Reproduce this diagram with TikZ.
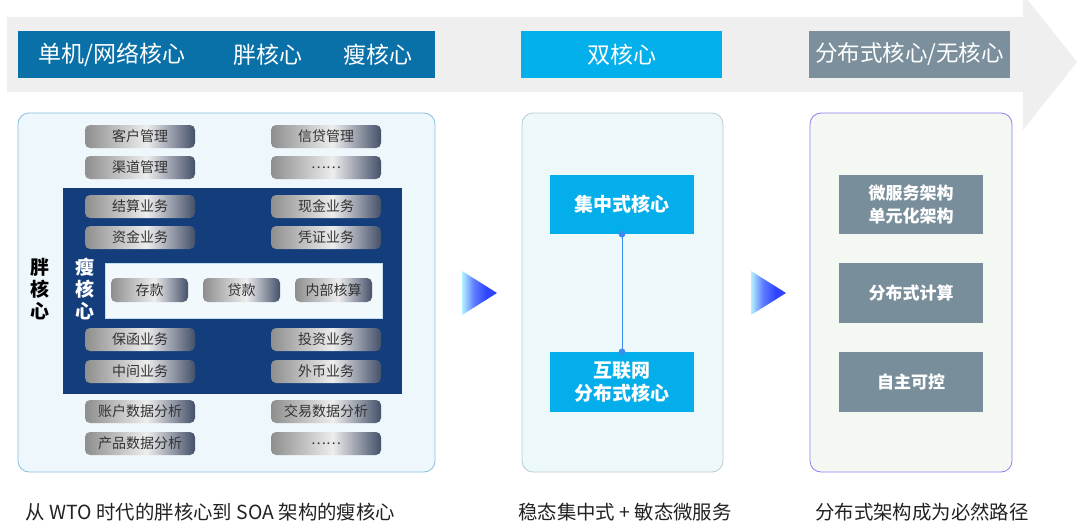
\documentclass[tikz,border=0pt]{standalone}
\usepackage{fontspec}
\setmainfont{Noto Sans CJK SC}
\definecolor{bandgray}{HTML}{EFEFEF}
\definecolor{hdrdark}{HTML}{0A70A8}
\definecolor{hdrcyan}{HTML}{04B0EC}
\definecolor{hdrgray}{HTML}{7B909C}
\definecolor{p1fill}{HTML}{EEF7FC}
\definecolor{p1line}{HTML}{86BFE2}
\definecolor{navy}{HTML}{133D7B}
\definecolor{innerfill}{HTML}{F2F9FD}
\definecolor{p2fill}{HTML}{EDF8FB}
\definecolor{p2line}{HTML}{B9CBD6}
\definecolor{p3fill}{HTML}{F4F8F2}
\definecolor{p3line}{HTML}{8E7DF2}
\definecolor{cyanbox}{HTML}{03AEEB}
\definecolor{graybox}{HTML}{798E9B}
\definecolor{linkblue}{HTML}{3D8BF0}
\definecolor{gL}{HTML}{8E8E8E}
\definecolor{gM}{HTML}{EDEDED}
\definecolor{gR}{HTML}{45516A}
\definecolor{arrL}{HTML}{B5F2FF}
\definecolor{arrM}{HTML}{5E7CFF}
\definecolor{arrR}{HTML}{2F44FF}
\definecolor{captext}{HTML}{222222}
\pgfdeclarehorizontalshading{btnshade}{100bp}{color(0bp)=(gL); color(25bp)=(gL); color(53bp)=(gM); color(75bp)=(gR); color(100bp)=(gR)}
\pgfdeclarehorizontalshading{trishade}{100bp}{color(0bp)=(arrL); color(25bp)=(arrL); color(42bp)=(arrM); color(60bp)=(arrR); color(100bp)=(arrR)}
\tikzset{
  hdrbox/.style={inner sep=0pt, minimum height=47pt},
  hdrtext/.style={text=white, font=\fontsize{23pt}{25pt}\selectfont, inner sep=0pt},
  btn/.style={rounded corners=5pt, shade, shading=btnshade, minimum width=110pt, minimum height=23pt, inner sep=0pt, text=black!80, font=\fontsize{14pt}{16pt}\selectfont},
  smallbtn/.style={btn, minimum width=77pt, minimum height=24pt},
  panel/.style={rounded corners=11pt, line width=0.8pt, inner sep=0pt},
  corebox/.style={inner sep=0pt, minimum width=144pt, minimum height=59pt, text=white, align=center, font=\bfseries\fontsize{19pt}{23pt}\selectfont},
  graycore/.style={corebox, fill=graybox, font=\bfseries\fontsize{17pt}{23pt}\selectfont},
  sidelabel/.style={align=center, inner sep=0pt, font=\bfseries\fontsize{19pt}{22pt}\selectfont},
  caption/.style={text=captext, inner sep=0pt, font=\fontsize{19.4pt}{21pt}\selectfont},
  tri/.style={shade, shading=trishade}
}
\begin{document}
\begin{tikzpicture}[x=1pt,y=-1pt]
\useasboundingbox (0,0) rectangle (1080,525);
\clip (0,0) rectangle (1080,525);
\fill[white] (0,0) rectangle (1080,525);
% timeline band arrow
\fill[bandgray] (7,17) -- (1023,17) -- (1023,-6) -- (1077,62) -- (1023,130) -- (1023,92) -- (7,92) -- cycle;
% headers
\node[hdrbox, fill=hdrdark, minimum width=417pt] (h1) at (226.5,54.5) {};
\node[hdrtext] (h1a) at (112,54.5) {单机/网络核心};
\node[hdrtext] (h1b) at (268,54.5) {胖核心};
\node[hdrtext] (h1c) at (378,54.5) {瘦核心};
\node[hdrbox, fill=hdrcyan, minimum width=201pt, text=white, font=\fontsize{23pt}{25pt}\selectfont] (h2) at (621.5,54.5) {双核心};
\node[hdrbox, fill=hdrgray, minimum width=201pt, text=white, font=\fontsize{22.5pt}{25pt}\selectfont] (h3) at (909.5,54.5) {分布式核心/无核心};
% panel 1
\node[panel, fill=p1fill, draw=p1line, minimum width=417pt, minimum height=359pt] (p1) at (226.5,292.5) {};
\node[fill=navy, inner sep=0pt, minimum width=339pt, minimum height=206pt] (thin) at (232.5,291) {};
\node[fill=innerfill, draw=p1line!50, inner sep=0pt, minimum width=277pt, minimum height=55pt] (innerbox) at (243.5,290.5) {};
\node[sidelabel, text=black] (fatlbl) at (40,289) {胖\\核\\心};
\node[sidelabel, text=white] (thinlbl) at (85,289) {瘦\\核\\心};
% buttons
\node[btn] (b11) at (140,136.5) {客户管理};
\node[btn] (b12) at (326,136.5) {信贷管理};
\node[btn] (b21) at (140,167.5) {渠道管理};
\node[btn] (b22) at (326,167.5) {……};
\node[btn] (b31) at (140,206.5) {结算业务};
\node[btn] (b32) at (326,206.5) {现金业务};
\node[btn] (b41) at (140,237.5) {资金业务};
\node[btn] (b42) at (326,237.5) {凭证业务};
\node[smallbtn] (c1) at (149.5,290) {存款};
\node[smallbtn] (c2) at (241.5,290) {贷款};
\node[smallbtn] (c3) at (333.5,290) {内部核算};
\node[btn] (b51) at (140,339.5) {保函业务};
\node[btn] (b52) at (326,339.5) {投资业务};
\node[btn] (b61) at (140,371.5) {中间业务};
\node[btn] (b62) at (326,371.5) {外币业务};
\node[btn] (b71) at (140,411.5) {账户数据分析};
\node[btn] (b72) at (326,411.5) {交易数据分析};
\node[btn] (b81) at (140,443.5) {产品数据分析};
\node[btn] (b82) at (326,443.5) {……};
% transition arrows
\path[tri] (462,271) -- (497,293) -- (462,315) -- cycle;
\path[tri] (751,271) -- (786,293) -- (751,315) -- cycle;
% panel 2
\node[panel, fill=p2fill, draw=p2line, minimum width=201pt, minimum height=359pt] (p2) at (622.5,292.5) {};
\node[corebox, fill=cyanbox] (core1) at (622,204.5) {集中式核心};
\node[corebox, fill=cyanbox, minimum height=60pt] (core2) at (622,382) {互联网\\分布式核心};
\draw[linkblue, line width=0.9pt] (core1.south) -- (core2.north);
\fill[linkblue] (core1.south) circle (3.3pt);
\fill[linkblue] (core2.north) circle (3.3pt);
% panel 3
\node[panel, fill=p3fill, draw=p3line, minimum width=202pt, minimum height=359pt] (p3) at (911,292.5) {};
\node[graycore] (d1) at (911,204.5) {微服务架构\\单元化架构};
\node[graycore, minimum height=60pt] (d2) at (911,293) {分布式计算};
\node[graycore, minimum height=60pt] (d3) at (911,382) {自主可控};
% captions
\node[caption] (cap1) at (210.5,512) {从 WTO 时代的胖核心到 SOA 架构的瘦核心};
\node[caption] (cap2) at (625,512) {稳态集中式 + 敏态微服务};
\node[caption] (cap3) at (922,512) {分布式架构成为必然路径};
\end{tikzpicture}
\end{document}
